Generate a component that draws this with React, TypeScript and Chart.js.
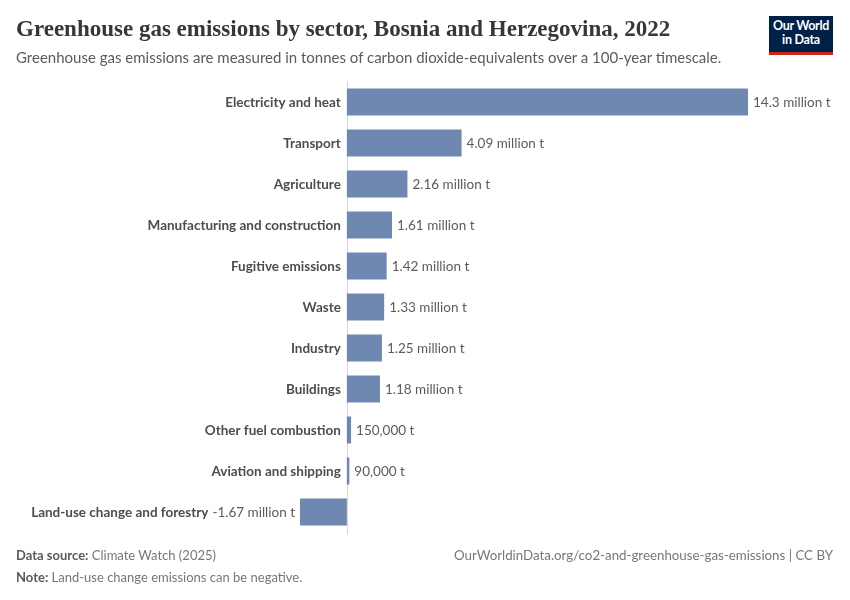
import React, { useEffect, useRef } from "react";
import { Chart, registerables } from "chart.js";

Chart.register(...registerables);

const categories = [
  "Electricity and heat",
  "Transport",
  "Agriculture",
  "Manufacturing and construction",
  "Fugitive emissions",
  "Waste",
  "Industry",
  "Buildings",
  "Other fuel combustion",
  "Aviation and shipping",
  "Land-use change and forestry",
];

// million tonnes CO2e
const values = [14.3, 4.09, 2.16, 1.61, 1.42, 1.33, 1.25, 1.18, 0.15, 0.09, -1.67];

const valueLabels = [
  "14.3 million t",
  "4.09 million t",
  "2.16 million t",
  "1.61 million t",
  "1.42 million t",
  "1.33 million t",
  "1.25 million t",
  "1.18 million t",
  "150,000 t",
  "90,000 t",
  "-1.67 million t",
];

const BAR_COLOR = "#6f88b1";
const CAT_FONT = "bold 13.5px Lato";
const VAL_FONT = "13.5px Lato";

const labelPlugin = {
  id: "owidLabels",
  beforeDatasetsDraw(chart: any) {
    const ctx = chart.ctx;
    const x0 = chart.scales.x.getPixelForValue(0);
    const area = chart.chartArea;
    ctx.save();
    ctx.strokeStyle = "#d6d6d6";
    ctx.lineWidth = 1;
    ctx.beginPath();
    ctx.moveTo(Math.round(x0) + 0.5, area.top);
    ctx.lineTo(Math.round(x0) + 0.5, area.bottom + 2);
    ctx.stroke();
    ctx.restore();
  },
  afterDatasetsDraw(chart: any) {
    const ctx = chart.ctx;
    const meta = chart.getDatasetMeta(0);
    const x0 = chart.scales.x.getPixelForValue(0);
    ctx.save();
    ctx.textBaseline = "middle";
    meta.data.forEach((bar: any, i: number) => {
      const v = values[i];
      const y = bar.y + 1;
      ctx.font = VAL_FONT;
      ctx.fillStyle = "#5b5b5b";
      if (v >= 0) {
        ctx.textAlign = "left";
        ctx.fillText(valueLabels[i], bar.x + 5, y);
        ctx.font = CAT_FONT;
        ctx.fillStyle = "#4d4d4d";
        ctx.textAlign = "right";
        ctx.fillText(categories[i], x0 - 6, y);
      } else {
        ctx.textAlign = "right";
        const vx = bar.x - 5;
        ctx.fillText(valueLabels[i], vx, y);
        const w = ctx.measureText(valueLabels[i]).width;
        ctx.font = CAT_FONT;
        ctx.fillStyle = "#4d4d4d";
        ctx.fillText(categories[i], vx - w - 4, y);
      }
    });
    ctx.restore();
  },
};

export default function App() {
  const canvasRef = useRef<HTMLCanvasElement | null>(null);

  useEffect(() => {
    if (!canvasRef.current) return;
    const chart = new Chart(canvasRef.current, {
      type: "bar",
      data: {
        labels: categories,
        datasets: [
          {
            data: values,
            backgroundColor: BAR_COLOR,
            borderWidth: 0,
            categoryPercentage: 1,
            barPercentage: 0.66,
          },
        ],
      },
      options: {
        indexAxis: "y",
        animation: false,
        responsive: false,
        maintainAspectRatio: false,
        layout: { padding: { left: 300, right: 102, top: 81.5, bottom: 67.5 } },
        plugins: {
          legend: { display: false },
          tooltip: { enabled: false },
          title: { display: false },
        },
        scales: {
          x: { display: false, min: -1.67, max: 14.3 },
          y: { display: false },
        },
      },
      plugins: [labelPlugin],
    });
    return () => chart.destroy();
  }, []);

  const lato = "Lato, 'Noto Sans', sans-serif";

  return (
    <div
      style={{
        position: "absolute",
        left: 0,
        top: 0,
        width: 850,
        height: 600,
        background: "#fff",
        overflow: "hidden",
      }}
    >
      <canvas
        ref={canvasRef}
        width={850}
        height={600}
        style={{ position: "absolute", left: 0, top: 0, width: 850, height: 600 }}
      />
      <div
        style={{
          position: "absolute",
          left: 16,
          top: 15,
          fontFamily: "'Liberation Serif', 'DejaVu Serif', serif",
          fontSize: 23,
          lineHeight: "28px",
          color: "#373737",
          fontWeight: 600,
          whiteSpace: "nowrap",
        }}
      >
        Greenhouse gas emissions by sector, Bosnia and Herzegovina, 2022
      </div>
      <div
        style={{
          position: "absolute",
          left: 16,
          top: 47,
          fontFamily: lato,
          fontSize: 15,
          lineHeight: "20px",
          color: "#5b5b5b",
          whiteSpace: "nowrap",
        }}
      >
        Greenhouse gas emissions are measured in tonnes of carbon dioxide-equivalents over a 100-year timescale.
      </div>
      <div
        style={{
          position: "absolute",
          left: 769,
          top: 16,
          width: 64,
          height: 33,
          background: "#002147",
          borderBottom: "3px solid #ce261e",
          color: "#fff",
          fontFamily: lato,
          fontWeight: 700,
          fontSize: 12.5,
          lineHeight: "14px",
          textAlign: "center",
          paddingTop: 3,
          boxSizing: "content-box",
          letterSpacing: -0.3,
        }}
      >
        Our World
        <br />
        in Data
      </div>
      <div
        style={{
          position: "absolute",
          left: 16,
          top: 546,
          fontFamily: lato,
          fontSize: 13,
          lineHeight: "18px",
          color: "#777",
          whiteSpace: "nowrap",
        }}
      >
        <span style={{ color: "#5b5b5b", fontWeight: 700 }}>Data source:</span> Climate Watch (2025)
      </div>
      <div
        style={{
          position: "absolute",
          right: 17,
          top: 546,
          fontFamily: lato,
          fontSize: 13.3,
          lineHeight: "18px",
          color: "#777",
          whiteSpace: "nowrap",
        }}
      >
        OurWorldinData.org/co2-and-greenhouse-gas-emissions | CC BY
      </div>
      <div
        style={{
          position: "absolute",
          left: 16,
          top: 568,
          fontFamily: lato,
          fontSize: 13,
          lineHeight: "18px",
          color: "#777",
          whiteSpace: "nowrap",
        }}
      >
        <span style={{ color: "#5b5b5b", fontWeight: 700 }}>Note:</span> Land-use change emissions can be negative.
      </div>
    </div>
  );
}
